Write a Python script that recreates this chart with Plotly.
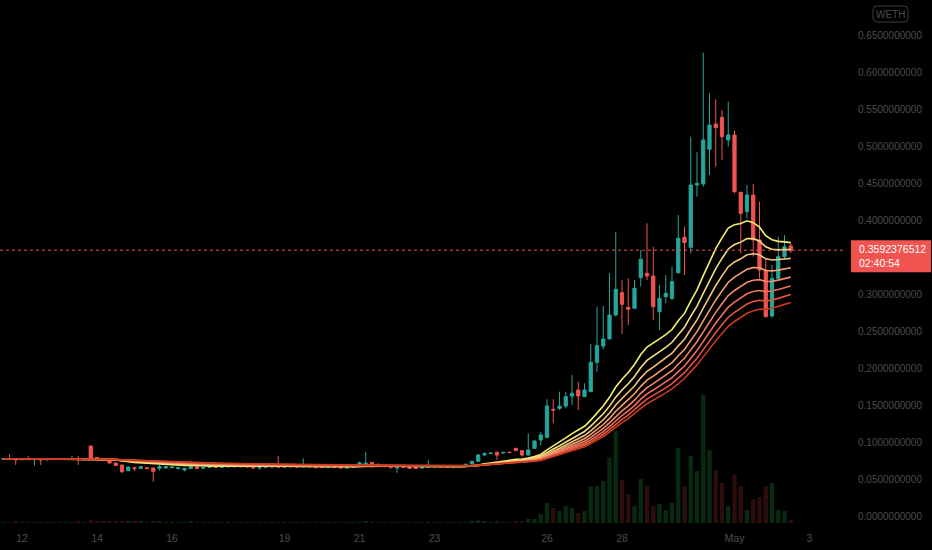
import pandas as pd
import plotly.graph_objects as go

# ---------------- data (4h candles, WETH pair) ----------------
times = pd.date_range("2024-04-11 12:00", periods=127, freq="4h")

opens = [
    .0770, .0773, .0770, .0760, .0765, .0762, .0768, .0758, .0763, .0767,
    .0764, .0768, .0772, .0766, .0946, .0790, .0770, .0745, .0716, .0689,
    .0613, .0653, .0644, .0653, .0649, .0644, .0649, .0653, .0640, .0622,
    .0640, .0665, .0645, .0655, .0662, .0660, .0664, .0668, .0666, .0668,
    .0664, .0652, .0660, .0664, .0668, .0662, .0665, .0668, .0663, .0672,
    .0665, .0660, .0657, .0662, .0655, .0648, .0658, .0690, .0700, .0725,
    .0700, .0675, .0668, .0650, .0662, .0662, .0658, .0648, .0658, .0665,
    .0668, .0668, .0662, .0670, .0672, .0703, .0740, .0824, .0845, .0860,
    .0850, .0862, .0914, .0883, .0824, .0914, .1027, .1063, .1441, .1455,
    .1486, .1622, .1703, .1613, .1680, .2077, .2297, .2392, .2716, .3018,
    .2820, .2807, .3221, .3279, .3243, .2761, .2964, .2941, .3288, .3766,
    .3631, .4473, .4486, .4955, .5297, .5387, .5081, .5149, .4374, .4113,
    .4338, .3730, .3324, .2703, .3212, .3505, .3649,
]
highs = [
    .0776, .0838, .0774, .0768, .0810, .0772, .0772, .0766, .0770, .0772,
    .0770, .0815, .0810, .0775, .0950, .0798, .0775, .0750, .0720, .0692,
    .0670, .0667, .0675, .0660, .0655, .0689, .0672, .0666, .0660, .0650,
    .0750, .0670, .0660, .0668, .0670, .0668, .0672, .0695, .0690, .0674,
    .0670, .0662, .0668, .0672, .0810, .0670, .0672, .0675, .0779, .0676,
    .0672, .0668, .0665, .0668, .0662, .0660, .0672, .0735, .0869, .0728,
    .0705, .0680, .0672, .0668, .0668, .0665, .0660, .0662, .0757, .0672,
    .0675, .0672, .0675, .0680, .0705, .0745, .0835, .0860, .0855, .0870,
    .0865, .0869, .0920, .0892, .1117, .1020, .1139, .1577, .1577, .1680,
    .1680, .1905, .1815, .1793, .2324, .2829, .2838, .3280, .3842, .3189,
    .3212, .3189, .3595, .3955, .3640, .3122, .3257, .3369, .4068, .3910,
    .5126, .4915, .6261, .5712, .5631, .5486, .5599, .5207, .4383, .4473,
    .4486, .4248, .3486, .3392, .3775, .3797, .3685,
]
lows = [
    .0764, .0768, .0690, .0755, .0758, .0680, .0690, .0750, .0758, .0760,
    .0759, .0765, .0690, .0745, .0778, .0780, .0742, .0712, .0678, .0581,
    .0605, .0608, .0640, .0635, .0464, .0613, .0640, .0645, .0632, .0604,
    .0635, .0635, .0640, .0650, .0655, .0652, .0658, .0662, .0660, .0660,
    .0640, .0625, .0655, .0658, .0660, .0655, .0660, .0660, .0660, .0660,
    .0640, .0652, .0650, .0652, .0648, .0645, .0655, .0688, .0695, .0650,
    .0668, .0660, .0640, .0585, .0655, .0640, .0638, .0640, .0652, .0658,
    .0660, .0660, .0658, .0665, .0668, .0700, .0735, .0815, .0840, .0757,
    .0845, .0845, .0880, .0802, .0820, .0905, .0950, .1050, .1252, .1432,
    .1455, .1500, .1432, .1613, .1680, .1950, .2250, .2392, .2700, .2459,
    .2581, .2807, .3100, .3189, .2649, .2514, .2874, .2919, .3275, .3257,
    .3550, .4315, .4450, .4608, .4721, .4811, .4991, .4360, .3550, .4023,
    .3505, .3212, .2680, .2680, .3189, .3459, .3550,
]
closes = [
    .0773, .0770, .0760, .0765, .0762, .0768, .0758, .0763, .0767, .0764,
    .0768, .0772, .0766, .0770, .0782, .0783, .0748, .0716, .0683, .0599,
    .0662, .0640, .0667, .0640, .0604, .0667, .0667, .0662, .0653, .0644,
    .0667, .0640, .0655, .0662, .0660, .0664, .0668, .0666, .0668, .0664,
    .0652, .0660, .0664, .0666, .0662, .0665, .0668, .0663, .0672, .0665,
    .0660, .0657, .0662, .0655, .0650, .0658, .0668, .0718, .0712, .0705,
    .0675, .0668, .0658, .0662, .0660, .0645, .0644, .0658, .0665, .0668,
    .0664, .0662, .0670, .0675, .0700, .0739, .0824, .0845, .0850, .0824,
    .0860, .0858, .0883, .0824, .0892, .1014, .1095, .1486, .1432, .1486,
    .1613, .1658, .1622, .1703, .2077, .2302, .2392, .2716, .3063, .2861,
    .2793, .3077, .3469, .3243, .2829, .2941, .3009, .3167, .3752, .3694,
    .4473, .4495, .5081, .5284, .5248, .5126, .5149, .4383, .4090, .4338,
    .3730, .3324, .2694, .3212, .3505, .3640, .3592,
]
volumes = [
    8, 10, 12, 6, 8, 10, 8, 6, 6, 6,
    8, 10, 12, 8, 30, 12, 12, 15, 15, 20,
    18, 12, 12, 10, 20, 15, 10, 8, 8, 10,
    12, 10, 6, 6, 5, 5, 5, 6, 5, 4,
    6, 6, 4, 4, 10, 5, 4, 4, 8, 5,
    6, 4, 4, 4, 5, 5, 5, 8, 12, 10,
    6, 5, 5, 8, 4, 6, 6, 5, 6, 4,
    4, 4, 5, 5, 8, 15, 25, 15, 10, 20,
    10, 10, 15, 20, 40, 40, 90, 200, 150, 120,
    170, 150, 100, 120, 370, 370, 420, 650, 920, 430,
    290, 170, 440, 370, 170, 190, 130, 200, 750, 370,
    670, 520, 1280, 730, 530, 400, 170, 480, 370, 130,
    240, 260, 370, 400, 130, 120, 30,
]

last_price = 0.3592376512
countdown = "02:40:54"
pair_label = "WETH"

price_ticks = [0.00, 0.05, 0.10, 0.15, 0.20, 0.25, 0.30, 0.40, 0.45, 0.50, 0.55, 0.60, 0.65]
price_tick_text = ["%.10f" % v for v in price_ticks]
date_ticks = ["2024-04-12", "2024-04-14", "2024-04-16", "2024-04-19", "2024-04-21",
              "2024-04-23", "2024-04-26", "2024-04-28", "2024-05-01", "2024-05-03"]
date_tick_text = ["12", "14", "16", "19", "21", "23", "26", "28", "May", "3"]

ema_lengths = [20, 25, 30, 35, 40, 45, 50, 55]
ema_colors = ["#f4f06a", "#f6dc84", "#f5c378", "#f5a06e", "#f5876a", "#f0705c", "#e2563f", "#c83c1c"]

UP = "#26a69a"
DN = "#ef5350"
TXT = "#4c4c4c"


def ema(values, n):
    k = 2.0 / (n + 1)
    out = []
    prev = values[0]
    for v in values:
        prev = v * k + prev * (1 - k)
        out.append(prev)
    return out


vol_colors = ["#082912" if c >= o else "#2c0e0e" for o, c in zip(opens, closes)]

fig = go.Figure()
fig.add_trace(go.Bar(x=times, y=volumes, marker=dict(color=vol_colors, line=dict(width=0)),
                     yaxis="y", hoverinfo="skip"))
fig.add_trace(go.Candlestick(
    x=times, open=opens, high=highs, low=lows, close=closes, yaxis="y2",
    increasing=dict(line=dict(color=UP, width=1), fillcolor=UP),
    decreasing=dict(line=dict(color=DN, width=1), fillcolor=DN),
    whiskerwidth=0, hoverinfo="skip"))
for n, col in zip(ema_lengths, ema_colors):
    fig.add_trace(go.Scatter(x=times, y=ema(closes, n), mode="lines", yaxis="y2",
                             line=dict(color=col, width=1.6), hoverinfo="skip"))

# axis geometry (pixel calibration of the reference)
W, H = 932, 550
ML, MR, MT, MB = 0, 87, 0, 27
px_per_day = 37.5
x_of_apr12 = 22
t12 = pd.Timestamp("2024-04-12")
x0 = t12 - pd.Timedelta(days=(x_of_apr12 - ML) / px_per_day)
x1 = t12 + pd.Timedelta(days=(W - MR - x_of_apr12) / px_per_day)
px_per_unit = 740.0
y_zero = 516
y_hi = (y_zero - MT) / px_per_unit
y_lo = (y_zero - (H - MB)) / px_per_unit
vol_top = 1280 * (H - MT - MB) / 128.0

font = dict(family="Liberation Sans", size=10, color=TXT)

fig.update_layout(
    width=W, height=H, margin=dict(l=ML, r=MR, t=MT, b=MB),
    paper_bgcolor="#000000", plot_bgcolor="#000000", showlegend=False,
    bargap=0.3, boxgap=0.26,
    xaxis=dict(type="date", range=[x0, x1], rangeslider=dict(visible=False),
               showgrid=False, zeroline=False, showline=False, ticks="",
               tickvals=date_ticks, ticktext=date_tick_text,
               tickfont=dict(family="Liberation Sans", size=10.5, color=TXT),
               ticklabelstandoff=7),
    yaxis=dict(range=[0, vol_top], visible=False, showgrid=False, fixedrange=True),
    yaxis2=dict(overlaying="y", side="right", range=[y_lo, y_hi], showgrid=False,
                zeroline=False, showline=False, ticks="", tickvals=price_ticks,
                ticktext=price_tick_text, tickfont=font, ticklabelstandoff=12),
    shapes=[
        dict(type="line", xref="paper", x0=0, x1=1, yref="y2", y0=last_price, y1=last_price,
             line=dict(color=DN, width=1, dash="dot")),
        dict(type="rect", xref="paper", xsizemode="pixel", xanchor=1, x0=6, x1=86,
             yref="y2", ysizemode="pixel", yanchor=last_price, y0=10, y1=-22,
             fillcolor="#f05350", line=dict(width=0)),
        dict(type="path", xref="paper", xsizemode="pixel", xanchor=1,
             yref="paper", ysizemode="pixel", yanchor=1,
             path="M32,-6 L59,-6 Q63,-6 63,-10 L63,-18 Q63,-22 59,-22 L32,-22 Q28,-22 28,-18 L28,-10 Q28,-6 32,-6 Z",
             line=dict(color="#3c3c3c", width=1)),
    ],
    annotations=[
        dict(xref="paper", x=1, xshift=45.5, yref="paper", y=1, yshift=-14,
             text=pair_label, showarrow=False, xanchor="center", yanchor="middle", font=font),
        dict(xref="paper", x=1, xshift=12, yref="y2", y=last_price, yshift=-5.5,
             text=last_price.__format__(".10f") + "<br>" + countdown, showarrow=False,
             xanchor="left", yanchor="middle", align="left",
             font=dict(family="Liberation Sans", size=10.5, color="#ffffff")),
    ],
)

fig.write_html("out.html", config={"displayModeBar": False},
               post_script="document.body.style.margin='0px';document.body.style.background='#000';")
